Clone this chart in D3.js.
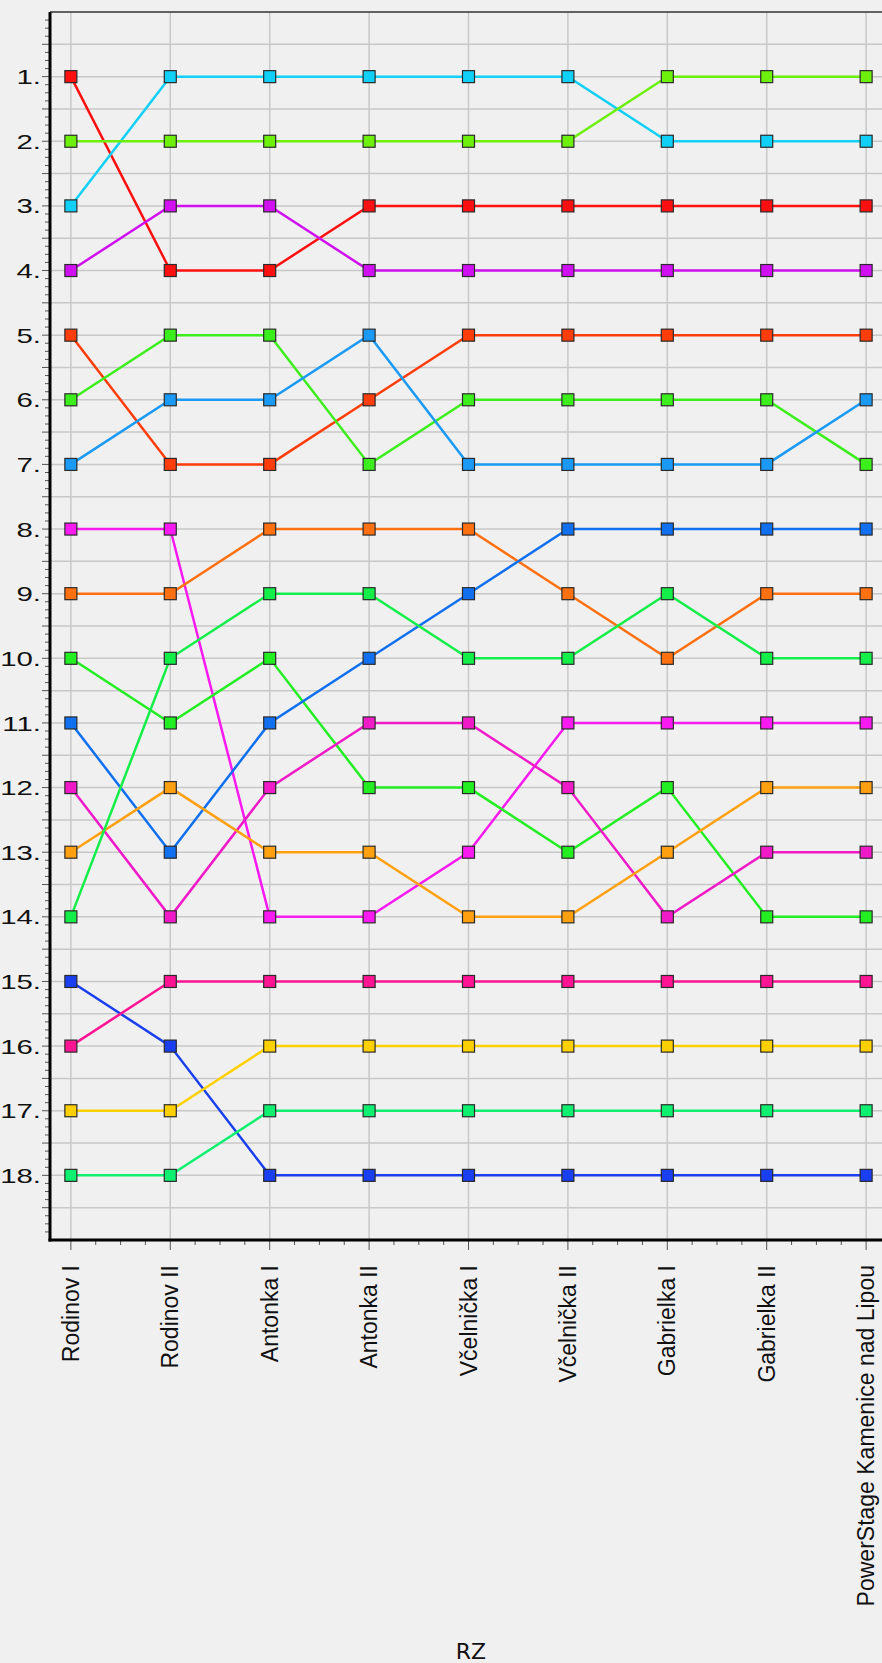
<!DOCTYPE html>
<html>
<head>
<meta charset="utf-8">
<script src="https://cdn.jsdelivr.net/npm/d3@7"></script>
<style>
  html, body { margin: 0; padding: 0; background: #f0f0f0; overflow: hidden; }
  svg { display: block; }
</style>
</head>
<body>
<svg id="chart" width="882" height="1663"></svg>
<script>
// ---------- data ----------
const categories = ["Rodinov I", "Rodinov II", "Antonka I", "Antonka II", "Včelnička I",
  "Včelnička II", "Gabrielka I", "Gabrielka II", "PowerStage Kamenice nad Lipou"];
const rankTicks = [1, 2, 3, 4, 5, 6, 7, 8, 9, 10, 11, 12, 13, 14, 15, 16, 17, 18];
const axisTitle = "RZ";

const sRed       = [1, 4, 4, 3, 3, 3, 3, 3, 3];
const sCyan      = [3, 1, 1, 1, 1, 1, 2, 2, 2];
const sLime      = [2, 2, 2, 2, 2, 2, 1, 1, 1];
const sPurple    = [4, 3, 3, 4, 4, 4, 4, 4, 4];
const sOrangeRed = [5, 7, 7, 6, 5, 5, 5, 5, 5];
const sGreen     = [6, 5, 5, 7, 6, 6, 6, 6, 7];
const sSky       = [7, 6, 6, 5, 7, 7, 7, 7, 6];
const sMagenta   = [8, 8, 14, 14, 13, 11, 11, 11, 11];
const sOrange    = [9, 9, 8, 8, 8, 9, 10, 9, 9];
const sGreenA    = [10, 11, 10, 12, 12, 13, 12, 14, 14];
const sBlue      = [11, 13, 11, 10, 9, 8, 8, 8, 8];
const sPink      = [12, 14, 12, 11, 11, 12, 14, 13, 13];
const sAmber     = [13, 12, 13, 13, 14, 14, 13, 12, 12];
const sGreenB    = [14, 10, 9, 9, 10, 10, 9, 10, 10];
const sDarkBlue  = [15, 16, 18, 18, 18, 18, 18, 18, 18];
const sRose      = [16, 15, 15, 15, 15, 15, 15, 15, 15];
const sYellow    = [17, 17, 16, 16, 16, 16, 16, 16, 16];
const sSpring    = [18, 18, 17, 17, 17, 17, 17, 17, 17];

const seriesList = [sRed, sCyan, sLime, sPurple, sOrangeRed, sGreen, sSky, sMagenta, sOrange,
  sGreenA, sBlue, sPink, sAmber, sGreenB, sDarkBlue, sRose, sYellow, sSpring];

// ---------- styles ----------
const palette = ["#ff1010", "#10d0f8", "#6cf00c", "#d010f0", "#ff3d0a", "#3cee1c", "#1a9af5",
  "#f81af0", "#ff7010", "#22ee22", "#1070f0", "#f01ac8", "#ffa010", "#14ee48", "#1a3ff0",
  "#ff1493", "#ffd000", "#10f070"];

// ---------- layout ----------
const W = 882, H = 1663;
const plotLeft = 50, plotRight = 887, plotTop = 12, plotBottom = 1240;

const svg = d3.select("#chart");
svg.append("rect").attr("width", W).attr("height", H).attr("fill", "#f0f0f0");

const x = d3.scaleLinear().domain([-0.21, 8.21]).range([plotLeft, plotRight]);
const y = d3.scaleLinear().domain([0, 19]).range([plotTop, plotBottom]);

// grid
const grid = svg.append("g");
const hGrid = d3.range(1, 38).map(d => d / 2);
grid.selectAll("line.h").data(hGrid).join("line")
  .attr("x1", plotLeft).attr("x2", plotRight)
  .attr("y1", d => y(d)).attr("y2", d => y(d))
  .attr("stroke", "#c8c8c8").attr("stroke-width", 1.5);
grid.selectAll("line.v").data(categories.map((c, i) => i)).join("line")
  .attr("x1", d => x(d)).attr("x2", d => x(d))
  .attr("y1", plotTop).attr("y2", plotBottom)
  .attr("stroke", "#c8c8c8").attr("stroke-width", 1.5);

// top border
svg.append("line").attr("x1", plotLeft).attr("x2", W).attr("y1", plotTop).attr("y2", plotTop)
  .attr("stroke", "#333").attr("stroke-width", 1.5);

// y axis minor ticks
const yMinor = d3.range(1, 152).map(d => d / 8);
svg.append("g").selectAll("line").data(yMinor).join("line")
  .attr("x1", d => (d * 2) % 1 === 0 ? plotLeft - 8 : plotLeft - 5)
  .attr("x2", plotLeft)
  .attr("y1", d => y(d)).attr("y2", d => y(d))
  .attr("stroke", "#555").attr("stroke-width", 1);

// y axis labels (horizontally stretched like the original)
svg.append("g").selectAll("g").data(rankTicks).join("g")
  .attr("transform", d => `translate(41,${y(d)}) scale(1.4,1)`)
  .append("text")
  .attr("text-anchor", "end").attr("dy", "0.36em")
  .attr("font-family", "Liberation Sans, Arial, sans-serif")
  .attr("font-size", 21).attr("fill", "#111")
  .text(d => d + ".");

// x axis minor ticks
const xMinor = d3.range(0, 33).map(d => d / 4);
svg.append("g").selectAll("line").data(xMinor).join("line")
  .attr("x1", d => x(d)).attr("x2", d => x(d))
  .attr("y1", plotBottom)
  .attr("y2", d => d % 1 === 0 ? plotBottom + 10 : plotBottom + 5)
  .attr("stroke", "#555").attr("stroke-width", 1);

// axis lines
svg.append("line").attr("x1", plotLeft).attr("x2", plotLeft).attr("y1", plotTop).attr("y2", plotBottom + 1.5)
  .attr("stroke", "#000").attr("stroke-width", 3);
svg.append("line").attr("x1", plotLeft - 1.5).attr("x2", W).attr("y1", plotBottom).attr("y2", plotBottom)
  .attr("stroke", "#000").attr("stroke-width", 3);

// x labels
svg.append("g").selectAll("text").data(categories).join("text")
  .attr("transform", (d, i) => `translate(${x(i)},1265) rotate(-90)`)
  .attr("text-anchor", "end")
  .attr("dy", "0.35em")
  .attr("font-family", "Liberation Sans, Arial, sans-serif")
  .attr("font-size", 23).attr("fill", "#111")
  .text(d => d);

// axis title
svg.append("text").attr("x", 471).attr("y", 1659).attr("text-anchor", "middle")
  .attr("font-family", "DejaVu Sans, sans-serif").attr("font-size", 22).attr("fill", "#111")
  .text(axisTitle);

// series
const line = d3.line().x((d, i) => x(i)).y(d => y(d));
const gs = svg.append("g");
seriesList.forEach((s, k) => {
  gs.append("path").datum(s).attr("d", line)
    .attr("fill", "none").attr("stroke", palette[k]).attr("stroke-width", 2.5);
});
seriesList.forEach((s, k) => {
  gs.append("g").selectAll("rect").data(s).join("rect")
    .attr("x", (d, i) => x(i) - 6).attr("y", d => y(d) - 6)
    .attr("width", 12).attr("height", 12)
    .attr("fill", palette[k]).attr("stroke", "#2a2a2a").attr("stroke-width", 1.2);
});
</script>
</body>
</html>
